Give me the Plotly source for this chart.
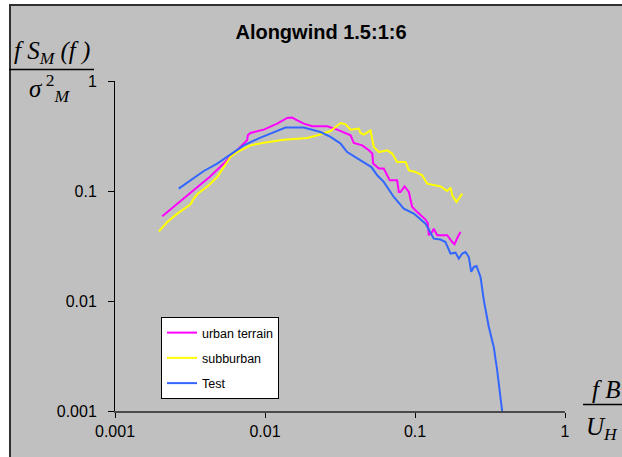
import plotly.graph_objects as go

# ---- data ----
urban_x = [0.002065, 0.0026, 0.00335, 0.00433, 0.00531, 0.0062, 0.00722, 0.0076, 0.00768, 0.0080,
           0.00982, 0.01205, 0.01406, 0.01518, 0.0164, 0.01815, 0.02065, 0.026, 0.0303, 0.0372,
           0.0391, 0.0445, 0.0492, 0.0519, 0.0526, 0.0574, 0.0619, 0.0659, 0.0679, 0.076,
           0.078, 0.080, 0.0851, 0.091, 0.0957, 0.1035, 0.1175, 0.1217, 0.1236, 0.1303,
           0.1334, 0.1406, 0.164, 0.177, 0.1834, 0.1928, 0.201]
urban_y = [0.0589, 0.0768, 0.1015, 0.136, 0.1775, 0.219, 0.27, 0.289, 0.321, 0.337,
           0.361, 0.41, 0.461, 0.465, 0.439, 0.41, 0.388, 0.388, 0.361, 0.321,
           0.273, 0.26, 0.2344, 0.2188, 0.1775, 0.160, 0.160, 0.134, 0.125, 0.125,
           0.098, 0.098, 0.110, 0.098, 0.0716, 0.0645, 0.055, 0.0512, 0.0396, 0.0424,
           0.0455, 0.0396, 0.0396, 0.0344, 0.0328, 0.0382, 0.0424]

suburban_x = [0.00196, 0.00223, 0.0026, 0.00319, 0.00335, 0.00353, 0.00422, 0.0048, 0.00531, 0.00589,
              0.00653, 0.0080, 0.00982, 0.01334, 0.0191, 0.02344, 0.02735, 0.0319, 0.0344, 0.0372,
              0.0422, 0.0433, 0.0456, 0.0505, 0.0531, 0.0574, 0.0653, 0.0705, 0.076, 0.0865,
              0.091, 0.1007, 0.1117, 0.1205, 0.148, 0.164, 0.1726, 0.177, 0.189, 0.199, 0.2065]
suburban_y = [0.043, 0.0523, 0.0623, 0.0757, 0.0853, 0.0933, 0.1127, 0.134, 0.165, 0.204,
              0.226, 0.260, 0.275, 0.293, 0.303, 0.326, 0.351, 0.415, 0.404, 0.361,
              0.369, 0.337, 0.326, 0.356, 0.251, 0.226, 0.234, 0.219, 0.1836, 0.1836,
              0.154, 0.149, 0.139, 0.1167, 0.110, 0.100, 0.1074, 0.0914, 0.0794, 0.0871, 0.0947]

test_x = [0.00266, 0.00335, 0.00391, 0.0048, 0.00604, 0.00722, 0.00933, 0.01145, 0.0137, 0.01815,
          0.02344, 0.02735, 0.0319, 0.0353, 0.0433, 0.0512, 0.056, 0.0619, 0.0722, 0.0842,
          0.0982, 0.1175, 0.1334, 0.148, 0.1596, 0.1726, 0.1862, 0.196, 0.2065, 0.2172,
          0.2285, 0.237, 0.2466, 0.257, 0.2735, 0.2877, 0.3105, 0.335, 0.353, 0.3715, 0.381]
test_y = [0.105, 0.13, 0.152, 0.1775, 0.2215, 0.26, 0.306, 0.344, 0.377, 0.377,
          0.344, 0.31, 0.27, 0.226, 0.19, 0.165, 0.139, 0.121, 0.0882, 0.0692,
          0.0623, 0.0505, 0.0369, 0.0362, 0.0344, 0.0270, 0.0275, 0.0243, 0.0270, 0.0279,
          0.0251, 0.0184, 0.0204, 0.0208, 0.0165, 0.01014, 0.00581, 0.00382, 0.00234, 0.00134, 0.001]

tick_vals = [0.001, 0.01, 0.1, 1]
tick_text = ["0.001", "0.01", "0.1", "1"]

series = [
    ("urban terrain", urban_x, urban_y, "#FF00FF"),
    ("subburban", suburban_x, suburban_y, "#FFFF00"),
    ("Test", test_x, test_y, "#3366FF"),
]

BG = "#C0C0C0"
SANS = "Liberation Sans, Arial, sans-serif"
SERIF = "Liberation Serif, Times New Roman, serif"

fig = go.Figure()
for i, (name, xs, ys, col) in enumerate(series):
    fig.add_trace(go.Scatter(x=xs, y=ys, mode="lines", name=name,
                             legendgroup=f"g{i}",
                             line=dict(color=col, width=2)))

fig.update_layout(
    width=622, height=457,
    margin=dict(l=115, r=57, t=81, b=46),
    paper_bgcolor="white",
    plot_bgcolor=BG,
    font=dict(family=SANS, color="black", size=16),
    title=dict(text="<b>Alongwind 1.5:1:6</b>", x=(321 - 115) / 450, xref="paper",
               xanchor="center", y=1 - 32 / 457, yanchor="middle",
               font=dict(family=SANS, size=20, color="black")),
    showlegend=True,
    legend=dict(x=(161 - 115) / 450, y=1 - (317 - 81) / 330, xanchor="left", yanchor="top",
                bgcolor="white", bordercolor="black", borderwidth=1,
                font=dict(family=SANS, size=12.5, color="black"),
                tracegroupgap=6, traceorder="grouped", itemwidth=30),
    xaxis=dict(type="log", range=[-3, 0], showgrid=False, zeroline=False,
               showline=True, linecolor="#4a4a4a", linewidth=2,
               ticks="outside", ticklen=5, tickcolor="black", tickwidth=1,
               tickvals=tick_vals, ticktext=tick_text,
               tickfont=dict(family=SANS, size=16, color="black")),
    yaxis=dict(type="log", range=[-3, 0], showgrid=False, zeroline=False,
               showline=True, linecolor="black", linewidth=1,
               ticks="outside", ticklen=6, tickcolor="black", tickwidth=1,
               tickvals=tick_vals, ticktext=tick_text, ticklabelstandoff=8,
               tickfont=dict(family=SANS, size=16, color="black")),
)

def px2x(px):
    return (px - 115) / 450

def py2y(py):
    return 1 - (py - 81) / 330

shapes = [
    # gray chart frame
    dict(type="rect", xref="paper", yref="paper", layer="below",
         x0=px2x(10), x1=px2x(640), y0=py2y(470), y1=py2y(5),
         fillcolor=BG, line=dict(color="#303030", width=2)),
    # y label fraction line
    dict(type="line", xref="paper", yref="paper",
         x0=px2x(9), x1=px2x(94), y0=py2y(69.5), y1=py2y(69.5),
         line=dict(color="black", width=1.5)),
    # x label fraction line
    dict(type="line", xref="paper", yref="paper",
         x0=px2x(583), x1=px2x(630), y0=py2y(404.5), y1=py2y(404.5),
         line=dict(color="black", width=1.5)),
]
fig.update_layout(shapes=shapes)

ann_font = dict(family=SERIF, size=25, color="black")
annotations = [
    dict(text="<i>f S</i><sub><i>M</i></sub><i> (f )</i>", x=px2x(52), y=py2y(52),
         xref="paper", yref="paper", xanchor="center", yanchor="middle",
         showarrow=False, font=ann_font),
    dict(text="<i>σ</i><sup> 2</sup><sub><i>M</i></sub>", x=px2x(49), y=py2y(88),
         xref="paper", yref="paper", xanchor="center", yanchor="middle",
         showarrow=False, font=ann_font),
    dict(text="<i>f B</i>", x=px2x(590), y=py2y(389), xref="paper", yref="paper",
         xanchor="left", yanchor="middle", showarrow=False, font=ann_font),
    dict(text="<i>U</i><sub><i>H</i></sub>", x=px2x(584), y=py2y(428), xref="paper", yref="paper",
         xanchor="left", yanchor="middle", showarrow=False, font=ann_font),
]
fig.update_layout(annotations=annotations)

fig.write_html("out.html", config={"displayModeBar": False},
               post_script="document.body.style.margin='0px';")
